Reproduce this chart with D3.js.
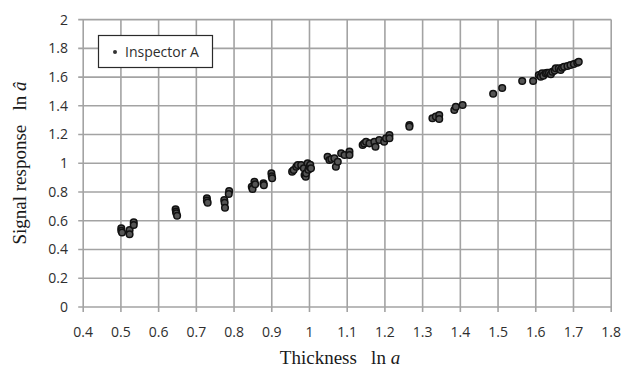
<!DOCTYPE html>
<html><head><meta charset="utf-8">
<script src="https://cdn.jsdelivr.net/npm/d3@7"></script>
<style>
html,body{margin:0;padding:0;background:#fff;}
svg{display:block;}
</style></head>
<body><svg id="c" width="623" height="368"></svg>
<script>
const xTicks = [0.4,0.5,0.6,0.7,0.8,0.9,1,1.1,1.2,1.3,1.4,1.5,1.6,1.7,1.8];
const yTicks = [0,0.2,0.4,0.6,0.8,1,1.2,1.4,1.6,1.8,2];
const seriesName = "Inspector A";
const thickness = [
 0.501,0.501,0.503,0.523,0.523,0.534,0.534,
 0.645,0.646,0.647,0.649,
 0.728,0.728,0.730,
 0.774,0.775,0.776,0.787,0.786,
 0.847,0.849,0.854,0.856,0.878,0.879,
 0.899,0.900,0.901,
 0.954,0.958,0.965,0.969,0.978,0.985,0.987,0.990,0.991,0.995,0.997,1.000,1.002,1.004,
 1.048,1.053,1.058,1.066,1.070,1.075,1.084,1.093,1.106,1.106,
 1.141,1.145,1.150,1.159,1.172,1.175,1.185,1.198,1.203,
 1.212,1.212,1.265,1.265,
 1.326,1.335,1.344,1.344,1.384,1.388,1.406,
 1.487,1.511,1.564,1.593,
 1.608,1.613,1.617,1.620,1.626,1.630,1.635,1.640,1.644,1.650,1.653,1.661,1.666,1.670,1.675,1.684,1.692,1.701,1.710,1.714
];
const signal = [
 0.548,0.530,0.518,0.536,0.506,0.589,0.571,
 0.680,0.665,0.652,0.635,
 0.756,0.740,0.726,
 0.745,0.725,0.691,0.807,0.786,
 0.837,0.822,0.872,0.854,0.861,0.848,
 0.930,0.910,0.896,
 0.942,0.953,0.976,0.988,0.988,0.965,0.919,0.907,0.930,1.000,0.955,0.976,0.990,0.965,
 1.046,1.023,1.030,1.035,0.976,1.011,1.070,1.058,1.081,1.058,
 1.127,1.138,1.150,1.139,1.150,1.115,1.162,1.150,1.174,
 1.197,1.174,1.267,1.255,
 1.313,1.325,1.336,1.308,1.371,1.394,1.406,
 1.484,1.524,1.573,1.573,
 1.614,1.603,1.626,1.610,1.626,1.630,1.630,1.620,1.637,1.645,1.661,1.661,1.649,1.665,1.672,1.677,1.684,1.691,1.700,1.707
];

const svg = d3.select("#c");
const x = d3.scaleLinear().domain([0.4,1.8]).range([83.2,611.2]);
const y = d3.scaleLinear().domain([0,2]).range([307,19.6]);
const gridColor = "#a3a3a3";
const sans = "'Open Sans', 'DejaVu Sans', sans-serif";

const g = svg.append("g");
g.selectAll("line.h").data(yTicks).join("line")
  .attr("x1", x(0.4)-5).attr("x2", x(1.8))
  .attr("y1", d=>y(d)).attr("y2", d=>y(d))
  .attr("stroke", gridColor).attr("stroke-width", 1.6);
g.selectAll("line.v").data(xTicks).join("line")
  .attr("x1", d=>x(d)).attr("x2", d=>x(d))
  .attr("y1", y(2)).attr("y2", y(0)+5)
  .attr("stroke", gridColor).attr("stroke-width", 1.6);

svg.append("g").selectAll("text").data(yTicks).join("text")
  .attr("x", 68).attr("y", d=>y(d)).attr("dy","0.35em")
  .attr("text-anchor","end").attr("font-family",sans).attr("font-size",14)
  .attr("fill","#2e2e2e").text(d=>d3.format("~g")(d));
svg.append("g").selectAll("text").data(xTicks).join("text")
  .attr("x", d=>x(d)).attr("y", 336.5)
  .attr("text-anchor","middle").attr("font-family",sans).attr("font-size",14)
  .attr("fill","#2e2e2e").text(d=>d3.format("~g")(d));

svg.append("g").selectAll("circle").data(thickness.map((t,i)=>[t,signal[i]])).join("circle")
  .attr("cx", d=>x(d[0])).attr("cy", d=>y(d[1])).attr("r", 3.3)
  .attr("fill","#555").attr("stroke","#111").attr("stroke-width",1.5);

const serif = "'Liberation Serif','Times New Roman',serif";
const xt = svg.append("text").attr("x", 340).attr("y", 364)
  .attr("text-anchor","middle").attr("font-family",serif).attr("font-size",19)
  .attr("fill","#1a1a1a").style("white-space","pre");
xt.append("tspan").text("Thickness   ln ");
xt.append("tspan").attr("font-style","italic").text("a");

const yt = svg.append("text").attr("transform","translate(26,163) rotate(-90)")
  .attr("text-anchor","middle").attr("font-family",serif).attr("font-size",19)
  .attr("fill","#1a1a1a").style("white-space","pre");
yt.append("tspan").text("Signal response   ln ");
yt.append("tspan").attr("font-style","italic").text("â");

const lg = svg.append("g");
lg.append("rect").attr("x",98.5).attr("y",35.5).attr("width",114).attr("height",32)
  .attr("fill","#fff").attr("stroke","#2a2a2a").attr("stroke-width",1.2);
lg.append("circle").attr("cx",115).attr("cy",52).attr("r",2).attr("fill","#333");
lg.append("text").attr("x",125).attr("y",57).attr("font-family",sans).attr("font-size",14)
  .attr("fill","#2e2e2e").text(seriesName);
</script></body></html>
